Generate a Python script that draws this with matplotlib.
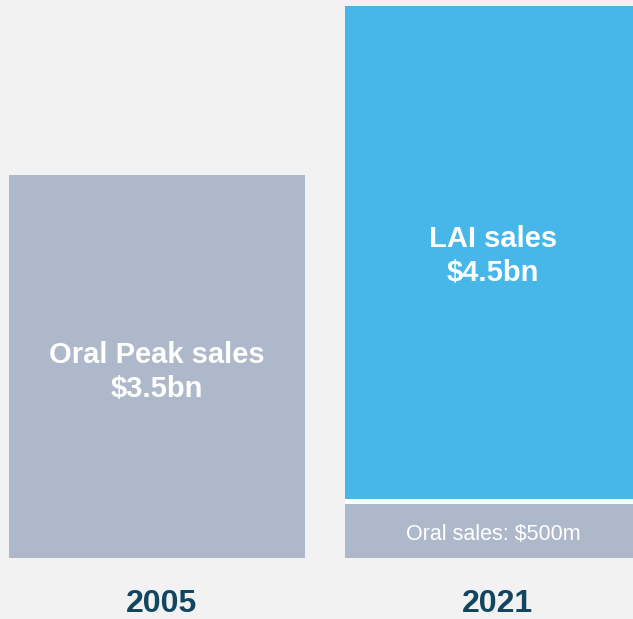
import matplotlib.pyplot as plt

# data (in $bn)
years = ["2005", "2021"]
oral_sales = [3.5, 0.5]
lai_sales = [0.0, 4.5]
oral_labels = ["Oral Peak sales\n$3.5bn", "Oral sales: $500m"]
lai_label = "LAI sales\n$4.5bn"

bg = "#f2f2f2"
grey = "#adb8ca"
blue = "#46b7e8"
navy = "#12455f"

plt.rcParams['font.family'] = ['Liberation Sans', 'DejaVu Sans']

fig = plt.figure(figsize=(6.33, 6.19), dpi=100, facecolor=bg)
ax = fig.add_axes([0, 0, 1, 1])
ax.set_facecolor(bg)

x = [0, 1]
w = 0.881
gap = 0.04

ax.bar(x, oral_sales, width=w, color=grey)
ax.bar(x[1], lai_sales[1], width=w, bottom=oral_sales[1] + gap, color=blue)
# white separator between the stacked pieces
ax.bar(x[1], gap, width=w, bottom=oral_sales[1], color="white")

ax.text(x[0], 1.70, oral_labels[0], ha="center", va="center",
        color="white", fontsize=21, fontweight="bold", linespacing=1.3)
ax.text(x[1], 0.22, oral_labels[1], ha="center", va="center",
        color="white", fontsize=15.5)
ax.text(x[1], 2.76, lai_label, ha="center", va="center",
        color="white", fontsize=21, fontweight="bold", linespacing=1.3)

for xi, yr in zip(x, years):
    ax.text(xi + 0.015, -0.415, yr, ha="center", va="center", color=navy,
            fontsize=23, fontweight="bold")

ax.set_xlim(-0.467, 1.417)
ax.set_ylim(-0.553, 5.095)
ax.axis("off")

fig.savefig("out.png", dpi=100, facecolor=bg)
